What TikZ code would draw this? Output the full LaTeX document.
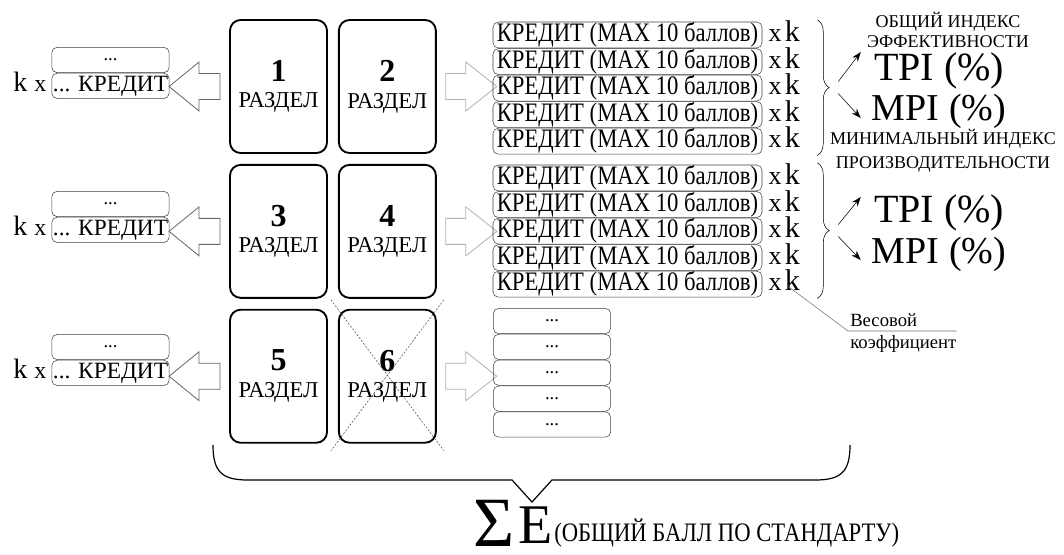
\documentclass[tikz,border=0pt]{standalone}
\usepackage{fontspec}
\setmainfont{Liberation Serif}
\newfontfamily\uzk[FakeStretch=0.85]{Liberation Serif}
\usetikzlibrary{positioning,arrows.meta,calc,decorations.pathreplacing}
\newcommand{\nomer}[1]{{\fontsize{24}{26}\selectfont\bfseries #1}}

\begin{document}
\begin{tikzpicture}[x=0.75pt, y=-0.75pt,
    razdel/.style={draw, line width=1.4pt, rounded corners=8pt, align=center,
                   minimum width=72.75pt, minimum height=99.75pt, inner sep=0pt,
                   font=\fontsize{17}{19}\selectfont},
    kredit/.style={draw=black!75, rounded corners=4pt, minimum width=201.75pt,
                   minimum height=19.5pt, inner sep=0pt, font=\uzk\fontsize{20}{22}\selectfont},
    tochki/.style={draw=black!75, rounded corners=4pt, minimum width=88pt,
                   minimum height=19pt, inner sep=0pt, font=\fontsize{14}{15}\selectfont},
    koef/.style={inner sep=0pt},
    pusto/.style={draw=black!60, line width=0.6pt, fill=white},
    svetlo/.style={draw=black!30, line width=0.6pt, fill=white},
    strelka/.style={-{Stealth[length=2.5mm, width=1.8mm]}, thin},
    skobka/.style={decorate, decoration={brace, amplitude=9pt}, thin},
    indeks/.style={font=\fontsize{30}{32}\selectfont, inner sep=0pt, anchor=base},
    podpis/.style={font=\fontsize{13.5}{15}\selectfont, align=center, inner sep=0pt},
    krest/.style={black!70, thin, dash pattern=on 1.5pt off 1.2pt},
    node distance=7.5pt and 7.5pt]
  \useasboundingbox (0,0) rectangle (1064,554);

  % razdely
  \node[razdel] (r1) at (278.5,86.5) {\nomer{1}\\[1pt]РАЗДЕЛ};
  \node[razdel, right=of r1] (r2) {\nomer{2}\\[1pt]РАЗДЕЛ};
  \node[razdel, below=of r1] (r3) {\nomer{3}\\[1pt]РАЗДЕЛ};
  \node[razdel, right=of r3] (r4) {\nomer{4}\\[1pt]РАЗДЕЛ};
  \node[razdel, below=of r3] (r5) {\nomer{5}\\[1pt]РАЗДЕЛ};
  \node[razdel, right=of r5] (r6) {\nomer{6}\\[1pt]РАЗДЕЛ};
  \draw[krest] ($(r6.north west)+(-7,-9)$) -- ($(r6.south east)+(7,7)$);
  \draw[krest] ($(r6.north east)+(7,-9)$) -- ($(r6.south west)+(-7,7)$);

  % sleva
  \node[tochki] (lt1) at (110.5,60) {...};
  \node[tochki, below=0pt of lt1, font=\fontsize{17.5}{19}\selectfont] (lk1) {... КРЕДИТ};
  \node[tochki] (lt2) at (110.5,204) {...};
  \node[tochki, below=0pt of lt2, font=\fontsize{17.5}{19}\selectfont] (lk2) {... КРЕДИТ};
  \node[tochki] (lt3) at (110.5,347) {...};
  \node[tochki, below=0pt of lt3, font=\fontsize{17.5}{19}\selectfont] (lk3) {... КРЕДИТ};
  \node[koef, anchor=base east] (kx1) at ($(lk1.base west)+(-5,0)$) {\fontsize{21}{22}\selectfont k {\fontsize{18}{20}\selectfont x}};
  \node[koef, anchor=base east] (kx2) at ($(lk2.base west)+(-5,0)$) {\fontsize{21}{22}\selectfont k {\fontsize{18}{20}\selectfont x}};
  \node[koef, anchor=base east] (kx3) at ($(lk3.base west)+(-5,0)$) {\fontsize{21}{22}\selectfont k {\fontsize{18}{20}\selectfont x}};

  \draw[pusto] ($(r1.west)+(-9,0)$) ++(0,-13) -- ++(-21,0) -- ++(0,-11.5) -- ++(-30,24.5)
    -- ++(30,24.5) -- ++(0,-11.5) -- ++(21,0) -- cycle;
  \draw[pusto] ($(r3.west)+(-9,0)$) ++(0,-13) -- ++(-21,0) -- ++(0,-11.5) -- ++(-30,24.5)
    -- ++(30,24.5) -- ++(0,-11.5) -- ++(21,0) -- cycle;
  \draw[pusto] ($(r5.west)+(-9,0)$) ++(0,-13) -- ++(-21,0) -- ++(0,-11.5) -- ++(-30,24.5)
    -- ++(30,24.5) -- ++(0,-11.5) -- ++(21,0) -- cycle;

  % sprava
  \draw[svetlo] ($(r2.east)+(9,0)$) ++(0,-13) -- ++(20,0) -- ++(0,-11.5) -- ++(31,24.5)
    -- ++(-31,24.5) -- ++(0,-11.5) -- ++(-20,0) -- cycle;
  \draw[svetlo] ($(r4.east)+(9,0)$) ++(0,-13) -- ++(20,0) -- ++(0,-11.5) -- ++(31,24.5)
    -- ++(-31,24.5) -- ++(0,-11.5) -- ++(-20,0) -- cycle;
  \draw[svetlo] ($(r6.east)+(9,0)$) ++(0,-13) -- ++(20,0) -- ++(0,-11.5) -- ++(31,24.5)
    -- ++(-31,24.5) -- ++(0,-11.5) -- ++(-20,0) -- cycle;

  \node[kredit] (k11) at (627.5,35) {КРЕДИТ (MAX 10 баллов)};
  \node[kredit, below=0pt of k11] (k12) {КРЕДИТ (MAX 10 баллов)};
  \node[kredit, below=0pt of k12] (k13) {КРЕДИТ (MAX 10 баллов)};
  \node[kredit, below=0pt of k13] (k14) {КРЕДИТ (MAX 10 баллов)};
  \node[kredit, below=0pt of k14] (k15) {КРЕДИТ (MAX 10 баллов)};
  \node[kredit] (k21) at (627.5,178) {КРЕДИТ (MAX 10 баллов)};
  \node[kredit, below=0pt of k21] (k22) {КРЕДИТ (MAX 10 баллов)};
  \node[kredit, below=0pt of k22] (k23) {КРЕДИТ (MAX 10 баллов)};
  \node[kredit, below=0pt of k23] (k24) {КРЕДИТ (MAX 10 баллов)};
  \node[kredit, below=0pt of k24] (k25) {КРЕДИТ (MAX 10 баллов)};
  \foreach \k in {11,12,13,14,15,21,22,23,24,25}
    \node[koef, anchor=base west] (xk\k) at ($(k\k.base east)+(6,0)$)
      {{\fontsize{19.5}{20}\selectfont x} {\fontsize{22.5}{23}\selectfont k}};

  \node[tochki] (rt1) at (552,321) {...};
  \node[tochki, below=0pt of rt1] (rt2) {...};
  \node[tochki, below=0pt of rt2] (rt3) {...};
  \node[tochki, below=0pt of rt3] (rt4) {...};
  \node[tochki, below=0pt of rt4] (rt5) {...};

  % skobki i indeksy
  \draw[skobka] ($(k11.north east)+(55,-2)$) -- ($(k15.south east)+(55,1)$) coordinate[midway] (s1);
  \draw[skobka] ($(k21.north east)+(55,-2)$) -- ($(k25.south east)+(55,1)$) coordinate[midway] (s2);
  \node[podpis] (obsh) at (948,30) {ОБЩИЙ ИНДЕКС\\ЭФФЕКТИВНОСТИ};
  \node[indeks] (tpi1) at (939,80) {TPI (\%)};
  \node[indeks, font=\fontsize{28.5}{30}\selectfont] (mpi1) at (939,120) {MPI (\%)};
  \node[podpis, font=\fontsize{13.5}{18}\selectfont] (minim) at (943,151) {МИНИМАЛЬНЫЙ ИНДЕКС\\ПРОИЗВОДИТЕЛЬНОСТИ};
  \node[indeks] (tpi2) at (939,222) {TPI (\%)};
  \node[indeks, font=\fontsize{28.5}{30}\selectfont] (mpi2) at (939,263) {MPI (\%)};
  \draw[strelka] ($(s1)+(21,-6)$) -- ($(tpi1.base west)+(-13,-28)$);
  \draw[strelka] ($(s1)+(21,6)$) -- ($(mpi1.base west)+(-11,-2)$);
  \draw[strelka] ($(s2)+(21,-6)$) -- ($(tpi2.base west)+(-13,-25)$);
  \draw[strelka] ($(s2)+(21,6)$) -- ($(mpi2.base west)+(-11,-3)$);

  % vesovoj koefficient
  \node[koef, anchor=base west, font=\fontsize{14}{15}\selectfont] (ves) at (850,326) {Весовой};
  \node[koef, anchor=north west, font=\fontsize{14}{15}\selectfont] (koe) at (850,335) {коэффициент};
  \coordinate (vl) at (848,331);
  \draw[black!55, thin] ($(xk25.east)+(-12,6)$) -- (vl) -- (vl -| koe.east);

  % summa
  \draw[line width=0.9pt] (213,445) .. controls (213,472) and (222,480) .. (248,480) -- (512,480)
    -- (532,502) -- (552,480) -- (815,480) .. controls (841,480) and (850,472) .. (850,445);
  \node[koef, anchor=base west] (sigma) at (473,546) {\fontsize{53}{53}\selectfont Σ};
  \node[koef, anchor=base west] (bukvaE) at (518,543) {\fontsize{42}{42}\selectfont E};
  \node[koef, anchor=base west, font=\uzk\fontsize{20}{22}\selectfont] (ball) at (554,541) {(ОБЩИЙ БАЛЛ ПО СТАНДАРТУ)};
\end{tikzpicture}
\end{document}
